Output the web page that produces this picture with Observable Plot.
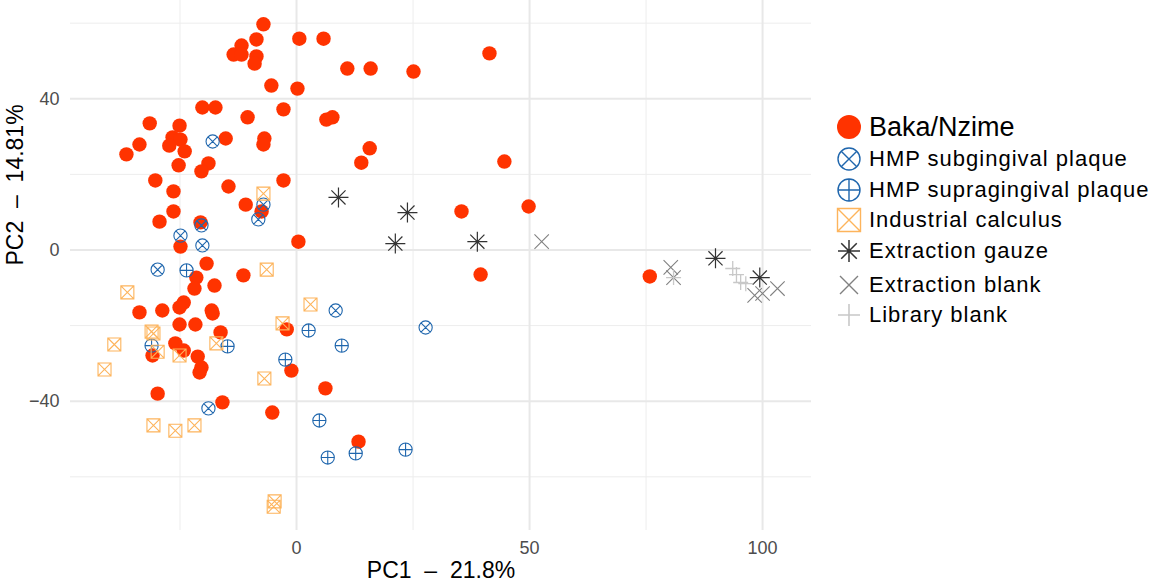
<!DOCTYPE html>
<html>
<head>
<meta charset="utf-8">
<script src="https://cdn.jsdelivr.net/npm/d3@7"></script>
<script src="https://cdn.jsdelivr.net/npm/@observablehq/plot@0.6"></script>
<style>
  body { margin: 0; background: #fff; font-family: "Liberation Sans", Arial, sans-serif; }
  #wrap { position: relative; width: 1153px; height: 581px; }
  #legend { position: absolute; left: 835px; top: 111px; }
  .row { display: flex; align-items: center; }
  .row svg { flex: none; }
  .row span { margin-left: 6px; color: #000; white-space: nowrap; }
</style>
</head>
<body>
<div id="wrap">
  <div id="chart"></div>
  <div id="legend"></div>
</div>
<script>
// PCA coordinates: [PC1, PC2]
const baka = [
  [-7.1, 59.7], [0.6, 55.9], [5.8, 55.9], [-11.8, 54.1], [-8.6, 55.7], [-13.5, 51.7], [-11.8, 51.7],
  [-8.6, 51.2], [-9.0, 49.3], [10.9, 48.0], [15.9, 48.0], [25.1, 47.2], [41.4, 52.0], [-5.4, 43.5],
  [0.2, 42.7], [-20.2, 37.7], [-17.4, 37.7], [-10.5, 35.1], [-2.8, 37.2], [6.4, 34.5], [7.7, 35.1],
  [-31.5, 33.5], [-25.1, 32.9], [-33.7, 27.9], [-36.5, 25.3], [-26.6, 29.8], [-24.9, 29.2], [-27.3, 27.6],
  [-24.0, 26.1], [-15.2, 29.5], [-6.9, 29.5], [-7.1, 27.9], [15.7, 26.9], [13.9, 23.1], [44.6, 23.4],
  [-25.3, 22.4], [-18.9, 22.9], [-20.4, 20.8], [-30.3, 18.4], [-26.4, 15.5], [-14.6, 16.8], [-2.8, 18.4],
  [-10.9, 12.0], [-26.4, 10.2], [-29.4, 7.5], [-20.6, 7.3], [-7.5, 10.2], [35.4, 10.2], [49.8, 11.5],
  [-24.9, 0.9], [0.4, 2.2], [-19.3, -3.6], [-11.4, -6.7], [39.5, -6.5], [75.8, -7.0], [-21.5, -7.3],
  [-17.6, -9.4], [-21.9, -10.2], [-24.2, -13.9], [-25.1, -15.2], [-33.7, -16.5], [-28.8, -16.0],
  [-18.2, -16.0], [-18.0, -16.8], [-25.1, -19.7], [-21.7, -19.7], [-16.3, -21.8], [-2.1, -21.0],
  [-26.0, -24.7], [-24.2, -26.6], [-30.9, -27.9], [-21.2, -28.2], [-20.4, -31.1], [-20.8, -32.4],
  [-1.1, -31.9], [6.2, -36.6], [-29.8, -38.0], [-15.9, -40.3], [-5.2, -43.0], [13.3, -50.7]
];
const hmpSub = [
  [-18.0, 28.7], [-7.1, 12.0], [-8.2, 8.1], [-20.4, 6.5], [-24.9, 3.8], [-20.2, 1.2],
  [-29.8, -5.2], [8.4, -16.0], [27.7, -20.5], [-18.9, -41.9]
];
const hmpSupra = [
  [-23.6, -5.4], [-31.1, -25.3], [-14.8, -25.5], [2.6, -21.3], [9.7, -25.3], [-2.4, -29.0],
  [4.9, -45.1], [6.7, -54.9], [12.7, -53.8], [23.4, -52.8]
];
const industrial = [
  [-7.1, 14.9], [-6.4, -5.2], [-36.3, -11.2], [3.0, -14.4], [-3.0, -19.4], [-31.1, -21.6],
  [-30.7, -22.1], [-39.1, -25.0], [-17.2, -24.7], [-29.8, -26.9], [-25.1, -27.9], [-41.2, -31.6],
  [-6.9, -34.0], [-30.7, -46.4], [-26.0, -47.8], [-21.9, -46.4], [-4.7, -66.5], [-4.9, -67.9]
];
const gauze = [[9.0, 13.9], [23.8, 9.9], [21.2, 1.7], [38.8, 2.2], [89.9, -2.2], [99.4, -7.3]];
const extBlank = [[52.6, 2.2], [80.3, -4.6], [80.9, -7.3], [103.2, -10.2], [98.3, -12.0], [100.0, -11.5]];
const libBlank = [[80.9, -7.3], [93.6, -4.9], [94.4, -6.5], [95.3, -8.6], [96.4, -8.9]];

const xTicks = [0, 50, 100];
const xMinor = [-25, 25, 75];
const yTicks = [-40, 0, 40];
const yMinor = [-60, -20, 20, 60];
const xTitle = "PC1\u00a0 \u2013\u00a0 21.8%";
const yTitle = "PC2\u00a0 \u2013\u00a0 14.81%";

// ggplot-like shapes as d3 symbol types (r = half size)
const rad = s => Math.sqrt(s / Math.PI);
const sym = {
  dot: {draw(c, s) { const r = rad(s); c.moveTo(r, 0); c.arc(0, 0, r, 0, 2 * Math.PI); }},
  circleTimes: {draw(c, s) {
    const r = rad(s), k = r * Math.SQRT1_2;
    c.moveTo(r, 0); c.arc(0, 0, r, 0, 2 * Math.PI);
    c.moveTo(-k, -k); c.lineTo(k, k); c.moveTo(-k, k); c.lineTo(k, -k);
  }},
  circlePlus: {draw(c, s) {
    const r = rad(s);
    c.moveTo(r, 0); c.arc(0, 0, r, 0, 2 * Math.PI);
    c.moveTo(-r, 0); c.lineTo(r, 0); c.moveTo(0, -r); c.lineTo(0, r);
  }},
  squareTimes: {draw(c, s) {
    const r = rad(s);
    c.rect(-r, -r, 2 * r, 2 * r);
    c.moveTo(-r, -r); c.lineTo(r, r); c.moveTo(-r, r); c.lineTo(r, -r);
  }},
  star: {draw(c, s) {
    const r = rad(s), k = r * Math.SQRT1_2;
    c.moveTo(-r, 0); c.lineTo(r, 0); c.moveTo(0, -r); c.lineTo(0, r);
    c.moveTo(-k, -k); c.lineTo(k, k); c.moveTo(-k, k); c.lineTo(k, -k);
  }},
  times: {draw(c, s) {
    const r = rad(s);
    c.moveTo(-r, -r); c.lineTo(r, r); c.moveTo(-r, r); c.lineTo(r, -r);
  }},
  plus: {draw(c, s) {
    const r = rad(s);
    c.moveTo(-r, 0); c.lineTo(r, 0); c.moveTo(0, -r); c.lineTo(0, r);
  }}
};

const groups = [
  {name: "Baka/Nzime", data: baka, symbol: sym.dot, r: 7.2, fill: "#ff3300", stroke: "none", sw: 0, lr: 12, font: 27, ls: 0},
  {name: "HMP subgingival plaque", data: hmpSub, symbol: sym.circleTimes, r: 6.6, fill: "none", stroke: "#1f66ad", sw: 1.1, lr: 11, font: 22, ls: 1},
  {name: "HMP supragingival plaque", data: hmpSupra, symbol: sym.circlePlus, r: 6.6, fill: "none", stroke: "#1f66ad", sw: 1.1, lr: 11, font: 22, ls: 1},
  {name: "Industrial calculus", data: industrial, symbol: sym.squareTimes, r: 6.5, fill: "none", stroke: "#fdb45c", sw: 1.1, lr: 11.5, font: 22, ls: 1},
  {name: "Extraction gauze", data: gauze, symbol: sym.star, r: 10, fill: "none", stroke: "#333333", sw: 1.2, lr: 11, font: 22, ls: 1},
  {name: "Extraction blank", data: extBlank, symbol: sym.times, r: 7.2, fill: "none", stroke: "#808080", sw: 1.1, lr: 9, font: 22, ls: 1},
  {name: "Library blank", data: libBlank, symbol: sym.plus, r: 7.5, fill: "none", stroke: "#c8c8c8", sw: 1.3, lr: 11, font: 22, ls: 1}
];
const rowHeights = [32, 32, 30, 30, 32, 36, 24];

const chart = Plot.plot({
  width: 820,
  height: 581,
  marginLeft: 70,
  marginRight: 9,
  marginTop: 0,
  marginBottom: 51,
  style: {fontFamily: '"Liberation Sans", Arial, sans-serif', background: "white"},
  x: {domain: [-48.5, 110.5], axis: null},
  y: {domain: [-74.2, 66], axis: null},
  marks: [
    Plot.ruleX(xMinor, {stroke: "#ededed", strokeWidth: 1}),
    Plot.ruleY(yMinor, {stroke: "#ededed", strokeWidth: 1}),
    Plot.ruleX(xTicks, {stroke: "#e8e8e8", strokeWidth: 2}),
    Plot.ruleY(yTicks, {stroke: "#e8e8e8", strokeWidth: 2}),
    Plot.axisX(xTicks, {tickSize: 0, tickPadding: 11, fontSize: 18, fill: "#4d4d4d", label: null}),
    Plot.axisY(yTicks, {tickSize: 0, tickPadding: 11, fontSize: 18, fill: "#4d4d4d", label: null}),
    Plot.text([xTitle], {frameAnchor: "bottom", dy: 47, fontSize: 23, fill: "black"}),
    Plot.text([yTitle], {frameAnchor: "left", dx: -55, rotate: -90, fontSize: 23, fill: "black"}),
    ...groups.map(g => Plot.dot(g.data, {
      x: d => d[0], y: d => d[1], symbol: g.symbol, r: g.r,
      fill: g.fill, stroke: g.stroke, strokeWidth: g.sw
    }))
  ]
});
d3.select("#chart").append(() => chart);

// legend
const legend = d3.select("#legend");
groups.forEach((g, i) => {
  const h = rowHeights[i];
  const row = legend.append("div").attr("class", "row").style("height", h + "px");
  const svg = row.append("svg").attr("width", 28).attr("height", h);
  svg.append("path")
    .attr("transform", `translate(14,${h / 2})`)
    .attr("d", d3.symbol(g.symbol, g.lr * g.lr * Math.PI)())
    .attr("fill", g.fill)
    .attr("stroke", g.stroke)
    .attr("stroke-width", g.sw ? g.sw + 0.3 : 0);
  row.append("span")
    .style("font-size", g.font + "px")
    .style("letter-spacing", g.ls + "px")
    .text(g.name);
});
</script>
</body>
</html>
